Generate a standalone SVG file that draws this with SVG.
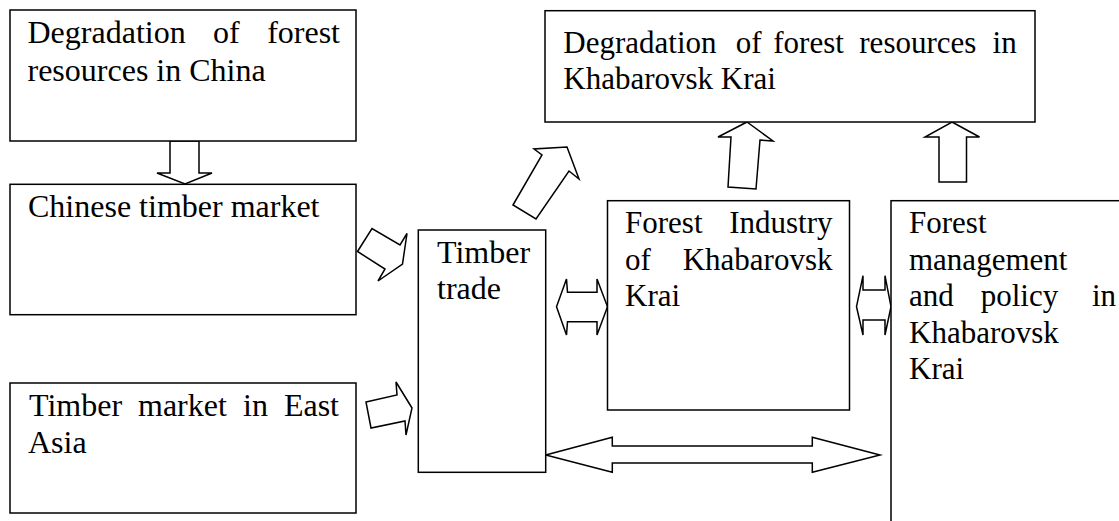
<svg xmlns="http://www.w3.org/2000/svg" width="1119" height="521" viewBox="0 0 1119 521">
<style>
  .box{fill:#fff;stroke:#000;stroke-width:1.5}
  .arr{fill:#fff;stroke:#000;stroke-width:1.5;stroke-linejoin:miter}
  text{font-family:"Liberation Serif","Times New Roman",serif;font-size:32px;fill:#000}
  .r{font-size:31px}
</style>
<rect width="1119" height="521" fill="#fff"/>
<g id="connectors">
  <polygon class="arr" points="170,141 199,141 199,173 212,173 185,184 157,173 170,173"/>
  <polygon class="arr" points="357.5,251.5 372,228.5 400,245 407,233.5 402.5,264 378,281 385,269"/>
  <polygon class="arr" points="366,402 397,395 396,382 412,408 406,435 405,421 371,428"/>
  <polygon class="arr" points="513,205 542,155 534,149 567,147 579,179 569,171 536,219"/>
  <polygon class="arr" points="747,122 773,141 760,140 756,189 728,187 731,137 718,137"/>
  <polygon class="arr" points="952,122 979.5,137 966.5,137 966.5,182 939,182 939,137 925,137"/>
  <polygon class="arr" points="556.5,306.7 566.5,279 567.5,292.3 597,292.3 597,279 607.5,306.7 597,335 597,321.7 567.5,321.7 566.5,335"/>
  <polygon class="arr" points="856.5,306.7 863,275.7 863,290 885,290 885,275.7 891,306.7 885,335 885,320 863,320 863,335"/>
  <polygon class="arr" points="545.7,455 612.3,437.3 612.3,446 812.3,446 812.3,437.3 880,455 812.3,472.3 812.3,463 612.3,463 612.3,472.3"/>
</g>
<g id="node-degradation-china">
  <rect class="box" x="10" y="10" width="346" height="131"/>
  <text><tspan x="27.5" y="43.3">Degradation</tspan><tspan x="213" y="43.3">of</tspan><tspan x="340" y="43.3" text-anchor="end">forest</tspan></text>
  <text x="27.5" y="81">resources in China</text>
</g>
<g id="node-chinese-market">
  <rect class="box" x="10" y="184.3" width="346" height="130.4"/>
  <text x="28" y="216.7">Chinese timber market</text>
</g>
<g id="node-east-asia">
  <rect class="box" x="10" y="383" width="346" height="130"/>
  <text><tspan x="29" y="416">Timber</tspan><tspan x="138" y="416">market</tspan><tspan x="243" y="416">in</tspan><tspan x="339" y="416" text-anchor="end">East</tspan></text>
  <text x="28" y="452.7">Asia</text>
</g>
<g id="node-timber-trade">
  <rect class="box" x="418.3" y="230" width="127.4" height="242.3"/>
  <text x="437" y="262.7">Timber</text>
  <text x="437" y="299.3">trade</text>
</g>
<g id="node-degradation-khabarovsk">
  <rect class="box" x="545" y="10.7" width="490" height="111.3"/>
  <text class="r"><tspan x="563.3" y="53.3">Degradation</tspan><tspan x="735.7" y="53.3">of</tspan><tspan x="773.3" y="53.3">forest</tspan><tspan x="859.3" y="53.3">resources</tspan><tspan x="1016.7" y="53.3" text-anchor="end">in</tspan></text>
  <text class="r" x="563.3" y="89.3">Khabarovsk Krai</text>
</g>
<g id="node-forest-industry">
  <rect class="box" x="607.5" y="200.7" width="242" height="209.3"/>
  <text class="r"><tspan x="625" y="233">Forest</tspan><tspan x="832.5" y="233" text-anchor="end">Industry</tspan></text>
  <text class="r"><tspan x="625" y="269.5">of</tspan><tspan x="832.5" y="269.5" text-anchor="end">Khabarovsk</tspan></text>
  <text class="r" x="625" y="306">Krai</text>
</g>
<g id="node-forest-management">
  <rect class="box" x="891" y="200.7" width="300" height="400"/>
  <text class="r" x="909" y="233">Forest</text>
  <text class="r" x="909" y="269.5">management</text>
  <text class="r"><tspan x="909" y="306">and</tspan><tspan x="980.7" y="306">policy</tspan><tspan x="1116" y="306" text-anchor="end">in</tspan></text>
  <text class="r" x="909" y="342.7">Khabarovsk</text>
  <text class="r" x="909" y="379.3">Krai</text>
</g>
</svg>
